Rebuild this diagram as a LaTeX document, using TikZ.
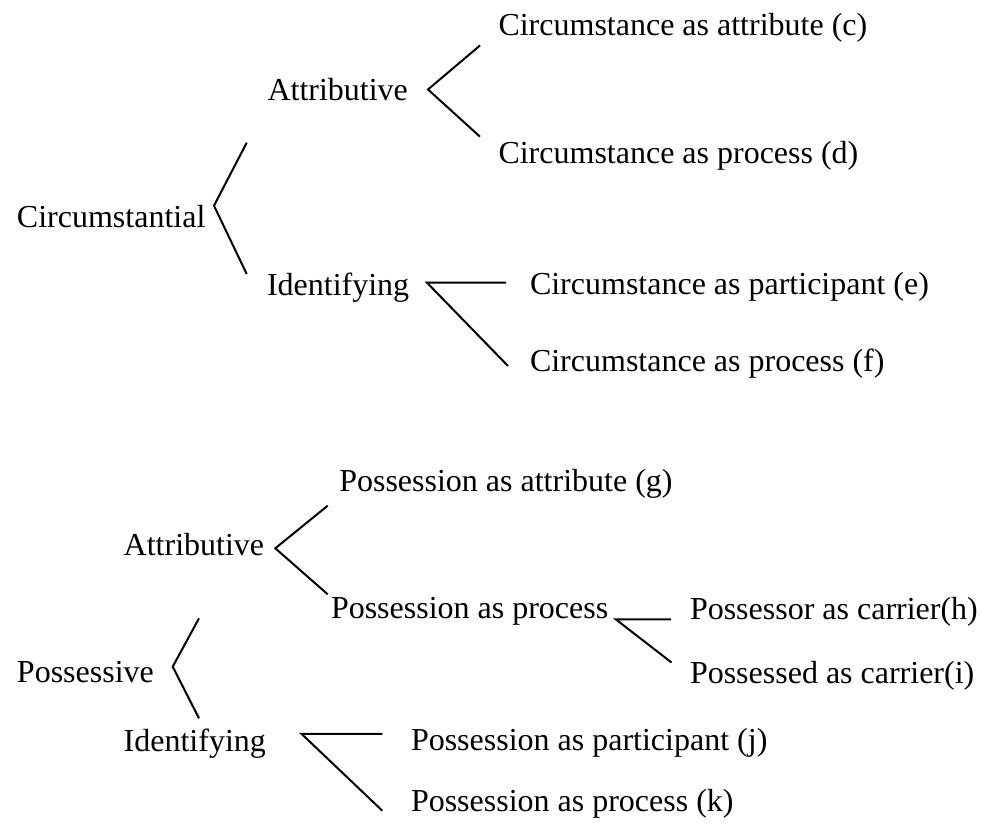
\documentclass[tikz,border=0pt]{standalone}
\usepackage{fontspec}
\setmainfont{Liberation Serif}
\begin{document}
\begin{tikzpicture}[x=0.5pt, y=-0.5pt, line width=1pt,
    term/.style={anchor=base west, inner sep=0pt, font=\fontsize{16}{19}\selectfont}]
  \useasboundingbox (0,0) rectangle (982,828);

  % circumstantial part
  \node[term] (circ) at (16,227.7) {Circumstantial};
  \node[term] (attA) at (266.5,100.5) {Attributive};
  \node[term] (idA) at (266,296) {Identifying};
  \node[term] (c) at (497.5,36) {Circumstance as attribute (c)};
  \node[term] (d) at (497.5,163.3) {Circumstance as process (d)};
  \node[term] (e) at (529,295) {Circumstance as participant (e)};
  \node[term] (f) at (529,371.7) {Circumstance as process (f)};

  % possessive part
  \node[term] (poss) at (16,682.5) {Possessive};
  \node[term] (attB) at (122.7,555.7) {Attributive};
  \node[term] (idB) at (122.7,751.7) {Identifying};
  \node[term] (g) at (338.3,491.7) {Possession as attribute (g)};
  \node[term] (pp) at (330,619) {Possession as process};
  \node[term] (h) at (689,619.5) {Possessor as carrier(h)};
  \node[term] (i) at (689,683.3) {Possessed as carrier(i)};
  \node[term] (j) at (410,750.5) {Possession as participant (j)};
  \node[term] (k) at (410,811.7) {Possession as process (k)};

  % bracket points
  \coordinate (circ-tip) at (214,205.7);
  \coordinate (circ-up) at (246.7,142.7);
  \coordinate (circ-dn) at (246.7,274);
  \coordinate (attA-tip) at (428,89.5);
  \coordinate (attA-up) at (480,45.5);
  \coordinate (attA-dn) at (480,136.7);
  \coordinate (idA-tip) at (427,282.7);
  \coordinate (idA-up) at (506,282.7);
  \coordinate (idA-dn) at (508,366);
  \coordinate (poss-tip) at (172.7,666.7);
  \coordinate (poss-up) at (199,618.3);
  \coordinate (poss-dn) at (199,718.3);
  \coordinate (attB-tip) at (275.3,548.3);
  \coordinate (attB-up) at (327.7,505.7);
  \coordinate (attB-dn) at (327.7,594.3);
  \coordinate (pp-tip) at (616,619.5);
  \coordinate (pp-up) at (671,619.5);
  \coordinate (pp-dn) at (671.5,662.5);
  \coordinate (idB-tip) at (301.7,734);
  \coordinate (idB-up) at (382.3,734);
  \coordinate (idB-dn) at (382.3,810.7);

  \draw (circ-up) -- (circ-tip) -- (circ-dn);
  \draw (attA-up) -- (attA-tip) -- (attA-dn);
  \draw (idA-up) -- (idA-tip) -- (idA-dn);
  \draw (poss-up) -- (poss-tip) -- (poss-dn);
  \draw (attB-up) -- (attB-tip) -- (attB-dn);
  \draw (pp-up) -- (pp-tip) -- (pp-dn);
  \draw (idB-up) -- (idB-tip) -- (idB-dn);
\end{tikzpicture}
\end{document}
